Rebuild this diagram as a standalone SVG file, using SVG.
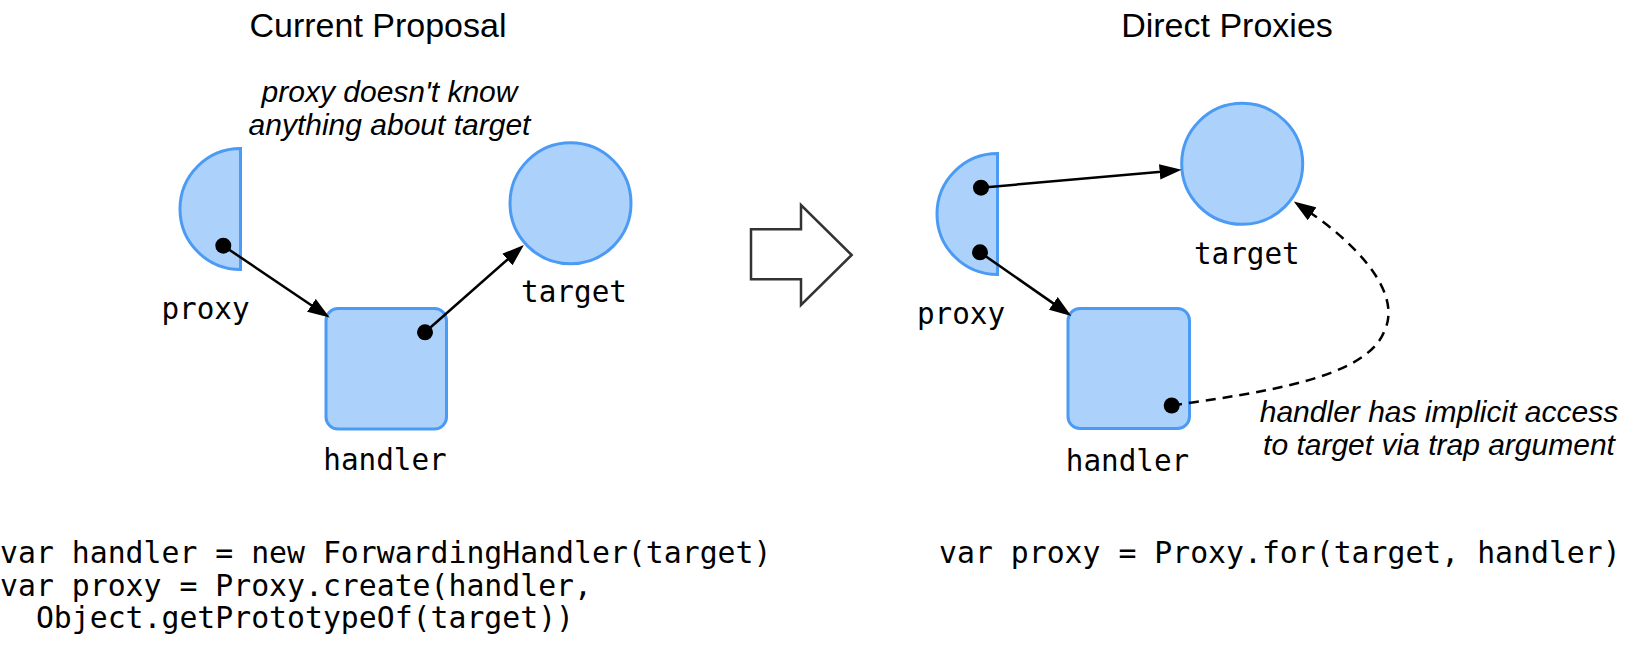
<svg xmlns="http://www.w3.org/2000/svg" width="1627" height="652" viewBox="0 0 1627 652">
<style>
.title{font-family:"Liberation Sans",Arial,sans-serif;font-size:34px;fill:#000;text-anchor:middle}
.note{font-family:"Liberation Sans",Arial,sans-serif;font-style:italic;font-size:30px;fill:#000;text-anchor:middle}
.lbl{font-family:"DejaVu Sans Mono",monospace;font-size:29.3px;fill:#000;text-anchor:middle}
.code{font-family:"DejaVu Sans Mono",monospace;font-size:29.8px;fill:#000}
.shape{fill:#acd2fc;stroke:#4b9bf4;stroke-width:3}
.dot{fill:#000}
.conn{stroke:#000;stroke-width:2.5;fill:none;marker-end:url(#ah)}
.dash{stroke-dasharray:10 7}
</style>
<defs>
<marker id="ah" markerUnits="userSpaceOnUse" markerWidth="22" markerHeight="16" viewBox="0 0 20 14" refX="4" refY="7" orient="auto">
<path d="M0,0 L20,7 L0,14 z" fill="#000"/>
</marker>
</defs>
<rect width="1627" height="652" fill="#fff"/>

<text class="title" x="378" y="37">Current Proposal</text>
<text class="title" x="1227" y="37">Direct Proxies</text>

<text class="note" x="389.5" y="102">proxy doesn't know</text>
<text class="note" x="389.5" y="135">anything about target</text>

<g id="proxy-left">
<path class="shape" d="M240.5,148.5 A60.5,60.5 0 0 0 240.5,269.5 Z"/>
<circle class="dot" cx="223.3" cy="245.7" r="8"/>
<text class="lbl" x="205.5" y="319">proxy</text>
</g>
<g id="handler-left">
<rect class="shape" x="326" y="308.5" width="120.5" height="120.5" rx="12"/>
<circle class="dot" cx="425" cy="332.3" r="8"/>
<text class="lbl" x="385" y="470">handler</text>
</g>
<g id="target-left">
<circle class="shape" cx="570.5" cy="203.3" r="60.5"/>
<text class="lbl" x="574" y="301.5">target</text>
</g>

<g id="transition-arrow">
<polygon points="751,229.3 801,229.3 801,205 851.7,255 801,305 801,279.3 751,279.3" fill="#fff" stroke="#333" stroke-width="2.5"/>
</g>

<g id="proxy-right">
<path class="shape" d="M997.5,153.5 A60.5,60.5 0 0 0 997.5,274.5 Z"/>
<circle class="dot" cx="981" cy="187.7" r="8"/>
<circle class="dot" cx="980" cy="252.3" r="8"/>
<text class="lbl" x="961" y="324">proxy</text>
</g>
<g id="handler-right">
<rect class="shape" x="1068" y="308.5" width="121.5" height="120" rx="12"/>
<circle class="dot" cx="1171.7" cy="405.5" r="8"/>
<text class="lbl" x="1127.5" y="471">handler</text>
</g>
<g id="target-right">
<circle class="shape" cx="1242.2" cy="163.8" r="60.5"/>
<text class="lbl" x="1246.8" y="264">target</text>
</g>

<g id="connectors">
<line class="conn" x1="223.3" y1="245.7" x2="315.05" y2="307.74"/>
<line class="conn" x1="425" y1="332.3" x2="510.7" y2="256.6"/>
<line class="conn" x1="981" y1="187.7" x2="1164.06" y2="171.42"/>
<line class="conn" x1="980" y1="252.3" x2="1056.9" y2="305.85"/>
<path class="conn dash" d="M1172,405.5 C1265,392 1365,378 1384,332 C1405,290 1348,238 1308.4,211.4"/>
</g>

<text class="note" x="1439" y="422">handler has implicit access</text>
<text class="note" x="1439" y="455">to target via trap argument</text>

<text class="code" x="0" y="563" xml:space="preserve">var handler = new ForwardingHandler(target)</text>
<text class="code" x="0" y="596" xml:space="preserve">var proxy = Proxy.create(handler,</text>
<text class="code" x="0" y="628" xml:space="preserve">  Object.getPrototypeOf(target))</text>
<text class="code" x="939" y="563" xml:space="preserve">var proxy = Proxy.for(target, handler)</text>
</svg>
